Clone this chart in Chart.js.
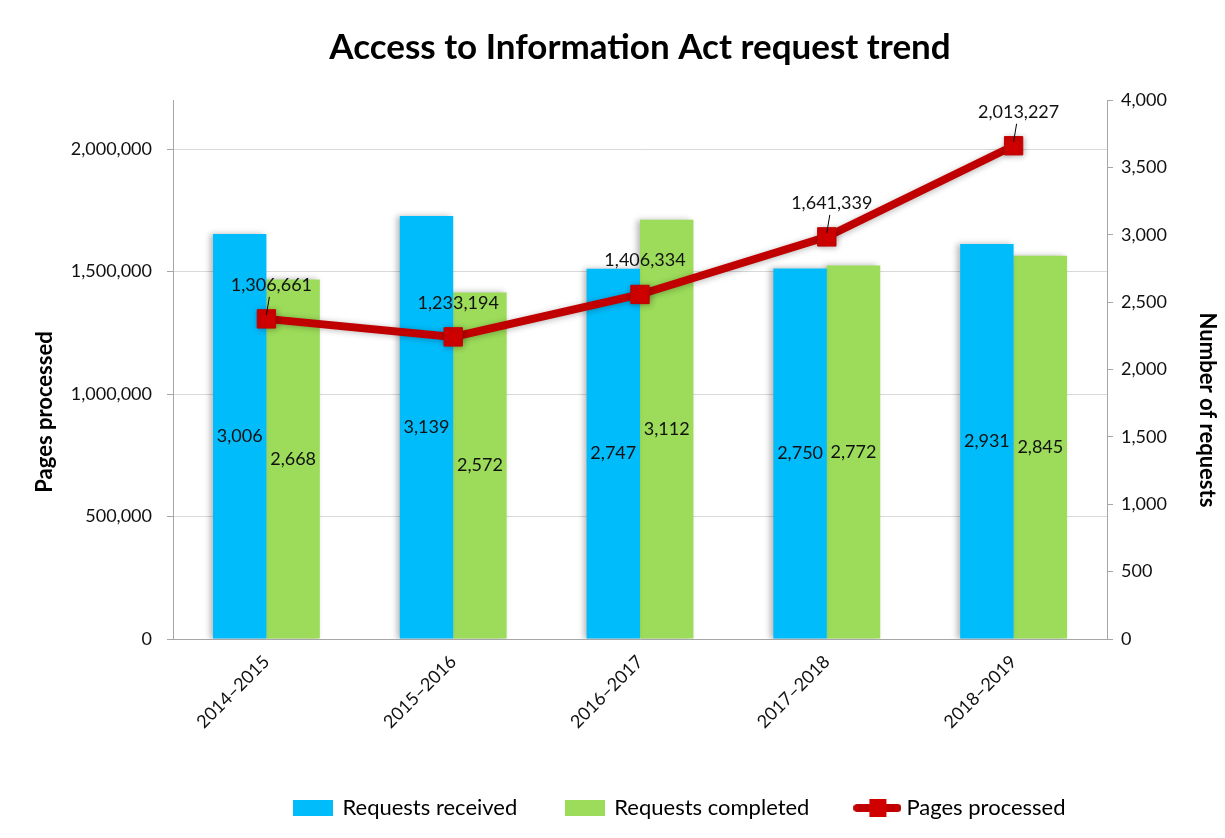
<!DOCTYPE html>
<html>
<head>
<meta charset="utf-8">
<script src="https://cdn.jsdelivr.net/npm/chart.js@4.4.1/dist/chart.umd.min.js"></script>
<style>
  html, body { margin: 0; padding: 0; background: #fff; }
  #wrap { width: 1225px; height: 838px; }
</style>
</head>
<body>
<div id="wrap"><canvas id="chartAtip"></canvas></div>
<script>
const anos = ["2014–2015", "2015–2016", "2016–2017", "2017–2018", "2018–2019"];
const pedidosRecebidos = [3006, 3139, 2747, 2750, 2931];
const pedidosConcluidos = [2668, 2572, 3112, 2772, 2845];
const paginasProcessadas = [1306661, 1233194, 1406334, 1641339, 2013227];
const ticksPaginas = [0, 500000, 1000000, 1500000, 2000000];

const FONTE = "Lato, 'Open Sans', sans-serif";
const AZUL = "#00BCFB";
const VERDE = "#9CDC5A";
const VERMELHO = "#C00000";

function fmt(v) {
  return v.toLocaleString("en-US");
}

// icones da legenda (caixa para barras, linha com quadrado para a serie)
function iconeCaixa(cor) {
  const c = document.createElement("canvas");
  c.width = 40;
  c.height = 16;
  const g = c.getContext("2d");
  g.fillStyle = cor;
  g.fillRect(0, 0, 40, 16);
  return c;
}

function iconeLinha() {
  const c = document.createElement("canvas");
  c.width = 48;
  c.height = 20;
  const g = c.getContext("2d");
  g.strokeStyle = VERMELHO;
  g.lineWidth = 8;
  g.lineCap = "round";
  g.beginPath();
  g.moveTo(4, 10);
  g.lineTo(44, 10);
  g.stroke();
  g.fillStyle = "#D00000";
  g.fillRect(16, 1, 17, 18);
  return c;
}

const sombraBarras = {
  id: "sombraBarras",
  beforeDatasetDraw(chart, args) {
    const ctx = chart.ctx;
    ctx.save();
    ctx.shadowColor = "rgba(0,0,0,0.28)";
    ctx.shadowBlur = 6;
    ctx.shadowOffsetX = args.meta.type === "bar" ? -3 : 1;
    ctx.shadowOffsetY = args.meta.type === "bar" ? 0 : 1;
  },
  afterDatasetDraw(chart) {
    chart.ctx.restore();
  },
};

// legenda fica deslocada para a direita no original
const moverLegenda = {
  id: "moverLegenda",
  afterLayout(chart) {
    chart.legend.left += 68;
    chart.legend.right += 68;
  },
};

// titulos dos eixos desenhados a mao (ficam um pouco abaixo do centro)
const titulosEixos = {
  id: "titulosEixos",
  afterDraw(chart) {
    const ctx = chart.ctx;
    ctx.save();
    ctx.font = "bold 22px " + FONTE;
    ctx.fillStyle = "#000";
    ctx.textAlign = "center";
    ctx.textBaseline = "middle";
    ctx.translate(45, 412);
    ctx.rotate(-Math.PI / 2);
    ctx.fillText("Pages processed", 0, 0);
    ctx.restore();

    ctx.save();
    ctx.font = "bold 22px " + FONTE;
    ctx.fillStyle = "#000";
    ctx.textAlign = "center";
    ctx.textBaseline = "middle";
    ctx.translate(1207, 410);
    ctx.rotate(Math.PI / 2);
    ctx.fillText("Number of requests", 0, 0);
    ctx.restore();
  },
};

// rotulos de dados
const rotulos = {
  id: "rotulos",
  afterDatasetsDraw(chart) {
    const ctx = chart.ctx;
    ctx.save();
    ctx.font = "18px " + FONTE;
    ctx.fillStyle = "#111";
    ctx.textAlign = "center";
    ctx.textBaseline = "middle";

    [0, 1].forEach((d) => {
      const meta = chart.getDatasetMeta(d);
      meta.data.forEach((bar, i) => {
        const valor = chart.data.datasets[d].data[i];
        ctx.fillText(fmt(valor), bar.x, (bar.y + bar.base) / 2);
      });
    });

    const metaLinha = chart.getDatasetMeta(2);
    const comGuia = [0, 3, 4];
    metaLinha.data.forEach((p, i) => {
      const valor = paginasProcessadas[i];
      ctx.fillText(fmt(valor), p.x + 5, p.y - 34);
      if (comGuia.includes(i)) {
        ctx.strokeStyle = "#000";
        ctx.lineWidth = 1;
        ctx.beginPath();
        ctx.moveTo(p.x + 3, p.y - 22);
        ctx.lineTo(p.x, p.y - 4);
        ctx.stroke();
      }
    });
    ctx.restore();
  },
};

const icones = [iconeCaixa(AZUL), iconeCaixa(VERDE), iconeLinha()];

new Chart(document.getElementById("chartAtip").getContext("2d"), {
  data: {
    labels: anos,
    datasets: [
      {
        type: "bar",
        label: "Requests received",
        data: pedidosRecebidos,
        backgroundColor: AZUL,
        yAxisID: "yPedidos",
        categoryPercentage: 0.572,
        barPercentage: 1,
        order: 2,
      },
      {
        type: "bar",
        label: "Requests completed",
        data: pedidosConcluidos,
        backgroundColor: VERDE,
        yAxisID: "yPedidos",
        categoryPercentage: 0.572,
        barPercentage: 1,
        order: 2,
      },
      {
        type: "line",
        label: "Pages processed",
        data: paginasProcessadas,
        borderColor: VERMELHO,
        borderWidth: 8,
        pointStyle: "rect",
        pointRadius: 13,
        pointBackgroundColor: "#D00000",
        pointBorderColor: VERMELHO,
        pointBorderWidth: 1,
        yAxisID: "yPaginas",
        tension: 0,
        order: 1,
      },
    ],
  },
  options: {
    responsive: true,
    maintainAspectRatio: false,
    animation: false,
    layout: { padding: { left: 0, right: 0, top: 0, bottom: 9 } },
    plugins: {
      title: {
        display: true,
        fullSize: false,
        text: "Access to Information Act request trend",
        color: "#000",
        font: { family: FONTE, size: 35, weight: "bold" },
        padding: { top: 27, bottom: 31 },
      },
      legend: {
        position: "bottom",
        labels: {
          usePointStyle: true,
          pointStyleWidth: 36,
          padding: 50,
          color: "#111",
          font: { family: FONTE, size: 22 },
          generateLabels(chart) {
            return chart.data.datasets.map((ds, i) => ({
              text: ds.label,
              pointStyle: icones[i],
              fillStyle: "transparent",
              strokeStyle: "transparent",
              lineWidth: 0,
              datasetIndex: i,
              hidden: false,
            }));
          },
        },
      },
      tooltip: { enabled: false },
    },
    scales: {
      x: {
        grid: { display: false },
        border: { display: true, color: "#a6a6a6", width: 1 },
        ticks: {
          color: "#111",
          font: { family: FONTE, size: 18 },
          minRotation: 45,
          maxRotation: 45,
          padding: 4,
        },
        afterFit(scale) {
          scale.height = 108;
        },
      },
      yPaginas: {
        position: "left",
        min: 0,
        max: 2200000,
        afterBuildTicks(scale) {
          scale.ticks = ticksPaginas.map((v) => ({ value: v }));
        },
        grid: {
          color: "#d9d9d9",
          tickColor: "#a6a6a6",
          tickLength: 6,
        },
        border: { display: true, color: "#a6a6a6", width: 1 },
        ticks: {
          color: "#111",
          font: { family: FONTE, size: 18 },
          padding: 15,
          callback: (v) => fmt(v),
        },
        afterFit(scale) {
          scale.width = 173;
        },
      },
      yPedidos: {
        position: "right",
        min: 0,
        max: 4000,
        grid: {
          drawOnChartArea: false,
          tickColor: "#a6a6a6",
          tickLength: 6,
        },
        border: { display: true, color: "#a6a6a6", width: 1 },
        ticks: {
          stepSize: 500,
          color: "#111",
          font: { family: FONTE, size: 18 },
          padding: 8,
          callback: (v) => fmt(v),
        },
        afterFit(scale) {
          scale.width = 118;
        },
      },
    },
  },
  plugins: [sombraBarras, rotulos, titulosEixos, moverLegenda],
});
</script>
</body>
</html>
